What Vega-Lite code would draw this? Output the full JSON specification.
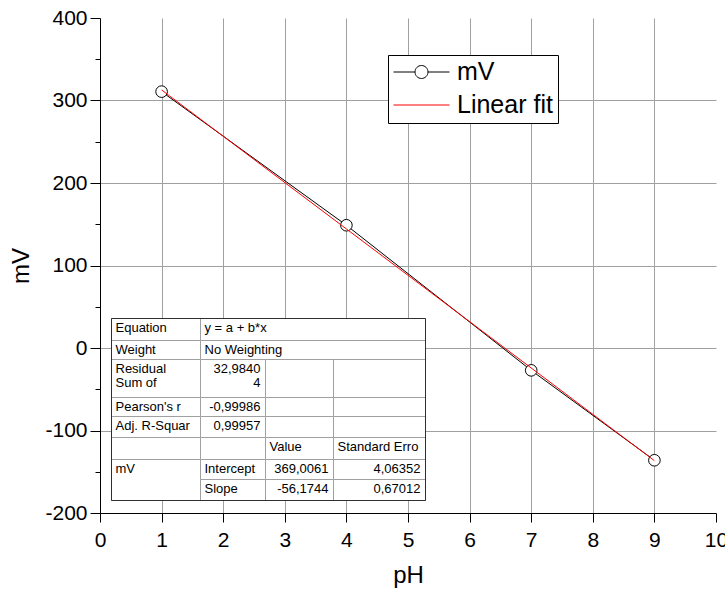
{
  "$schema": "https://vega.github.io/schema/vega-lite/v6.json",
  "width": 616,
  "height": 495,
  "autosize": {"type": "none"},
  "padding": {"left": 100, "top": 18, "right": 9, "bottom": 77},
  "background": "white",
  "config": {
    "view": {"stroke": null},
    "font": "Liberation Sans",
    "axis": {
      "labelFont": "Liberation Sans",
      "titleFont": "Liberation Sans",
      "labelColor": "black",
      "titleColor": "black",
      "titleFontWeight": "normal",
      "domainColor": "black",
      "tickColor": "black",
      "gridColor": "#a0a0a0",
      "labelFontSize": 21,
      "titleFontSize": 24,
      "labelOverlap": false,
      "labelFlush": false
    }
  },
  "datasets": {
    "measured": [
      {"pH": 1, "mV": 310.75},
      {"pH": 4, "mV": 148.79},
      {"pH": 7, "mV": -27.1},
      {"pH": 9, "mV": -136.08}
    ],
    "fit": [
      {"pH": 1, "mV": 312.8317},
      {"pH": 9, "mV": -136.5635}
    ],
    "cells": [
      {"c0": 0, "c1": 1, "r0": 0, "r1": 1},
      {"c0": 1, "c1": 4, "r0": 0, "r1": 1},
      {"c0": 0, "c1": 1, "r0": 1, "r1": 2},
      {"c0": 1, "c1": 4, "r0": 1, "r1": 2},
      {"c0": 0, "c1": 1, "r0": 2, "r1": 3},
      {"c0": 1, "c1": 2, "r0": 2, "r1": 3},
      {"c0": 2, "c1": 3, "r0": 2, "r1": 3},
      {"c0": 3, "c1": 4, "r0": 2, "r1": 3},
      {"c0": 0, "c1": 1, "r0": 3, "r1": 4},
      {"c0": 1, "c1": 2, "r0": 3, "r1": 4},
      {"c0": 2, "c1": 3, "r0": 3, "r1": 4},
      {"c0": 3, "c1": 4, "r0": 3, "r1": 4},
      {"c0": 0, "c1": 1, "r0": 4, "r1": 5},
      {"c0": 1, "c1": 2, "r0": 4, "r1": 5},
      {"c0": 2, "c1": 3, "r0": 4, "r1": 5},
      {"c0": 3, "c1": 4, "r0": 4, "r1": 5},
      {"c0": 0, "c1": 1, "r0": 5, "r1": 6},
      {"c0": 1, "c1": 2, "r0": 5, "r1": 6},
      {"c0": 2, "c1": 3, "r0": 5, "r1": 6},
      {"c0": 3, "c1": 4, "r0": 5, "r1": 6},
      {"c0": 0, "c1": 1, "r0": 6, "r1": 8},
      {"c0": 1, "c1": 2, "r0": 6, "r1": 7},
      {"c0": 2, "c1": 3, "r0": 6, "r1": 7},
      {"c0": 3, "c1": 4, "r0": 6, "r1": 7},
      {"c0": 1, "c1": 2, "r0": 7, "r1": 8},
      {"c0": 2, "c1": 3, "r0": 7, "r1": 8},
      {"c0": 3, "c1": 4, "r0": 7, "r1": 8}
    ],
    "frame": [
      {"c0": 0, "c1": 4, "r0": 0, "r1": 8}
    ],
    "cellText": [
      {"c0": 0, "c1": 1, "row": 0, "kind": "label", "text": "Equation"},
      {"c0": 1, "c1": 4, "row": 0, "kind": "label", "text": "y = a + b*x"},
      {"c0": 0, "c1": 1, "row": 1, "kind": "label", "text": "Weight"},
      {"c0": 1, "c1": 4, "row": 1, "kind": "label", "text": "No Weighting"},
      {"c0": 0, "c1": 1, "row": 2, "kind": "label", "text": ["Residual", "Sum of"]},
      {"c0": 1, "c1": 2, "row": 2, "kind": "number", "text": ["32,9840", "4"]},
      {"c0": 0, "c1": 1, "row": 3, "kind": "label", "text": "Pearson's r"},
      {"c0": 1, "c1": 2, "row": 3, "kind": "number", "text": "-0,99986"},
      {"c0": 0, "c1": 1, "row": 4, "kind": "label", "text": "Adj. R-Squar"},
      {"c0": 1, "c1": 2, "row": 4, "kind": "number", "text": "0,99957"},
      {"c0": 2, "c1": 3, "row": 5, "kind": "label", "text": "Value"},
      {"c0": 3, "c1": 4, "row": 5, "kind": "label", "text": "Standard Erro"},
      {"c0": 0, "c1": 1, "row": 6, "kind": "label", "text": "mV"},
      {"c0": 1, "c1": 2, "row": 6, "kind": "label", "text": "Intercept"},
      {"c0": 2, "c1": 3, "row": 6, "kind": "number", "text": "369,0061"},
      {"c0": 3, "c1": 4, "row": 6, "kind": "number", "text": "4,06352"},
      {"c0": 1, "c1": 2, "row": 7, "kind": "label", "text": "Slope"},
      {"c0": 2, "c1": 3, "row": 7, "kind": "number", "text": "-56,1744"},
      {"c0": 3, "c1": 4, "row": 7, "kind": "number", "text": "0,67012"}
    ]
  },
  "layer": [
    {
      "layer": [
        {
          "data": {"name": "measured"},
          "mark": {"type": "line", "strokeWidth": 1},
          "encoding": {
            "x": {
              "field": "pH", "type": "quantitative",
              "scale": {"domain": [0, 10], "nice": false, "zero": false},
              "axis": {
                "title": "pH",
                "values": [0, 0.5, 1, 1.5, 2, 2.5, 3, 3.5, 4, 4.5, 5, 5.5, 6, 6.5, 7, 7.5, 8, 8.5, 9, 9.5, 10],
                "labelExpr": "datum.value % 1 === 0 ? '' + datum.value : ''",
                "grid": true,
                "gridOpacity": {"condition": {"test": "datum.value % 1 !== 0 || datum.value === 0 || datum.value === 10", "value": 0}, "value": 1},
                "tickSize": {"condition": {"test": "datum.value % 1 !== 0", "value": 5}, "value": 9},
                "labelPadding": 7,
                "titlePadding": 13
              }
            },
            "y": {
              "field": "mV", "type": "quantitative",
              "scale": {"domain": [-200, 400], "nice": false, "zero": false},
              "axis": {
                "title": "mV",
                "values": [-200, -150, -100, -50, 0, 50, 100, 150, 200, 250, 300, 350, 400],
                "labelExpr": "datum.value % 100 === 0 ? '' + datum.value : ''",
                "grid": true,
                "gridOpacity": {"condition": {"test": "datum.value % 100 !== 0 || datum.value === 400 || datum.value === -200", "value": 0}, "value": 1},
                "tickSize": {"condition": {"test": "datum.value % 100 !== 0", "value": 5}, "value": 10},
                "labelPadding": 3,
                "titlePadding": 11
              }
            },
            "stroke": {
              "datum": "mV", "type": "nominal",
              "scale": {"domain": ["mV", "Linear fit"], "range": ["black", "#ff0000"]},
              "legend": {
                "title": null,
                "orient": "none",
                "legendX": 288,
                "legendY": 37,
                "direction": "vertical",
                "fillColor": "white",
                "strokeColor": "black",
                "padding": 5,
                "labelFont": "Liberation Sans",
                "labelFontSize": 25,
                "labelColor": "black",
                "labelOffset": 7,
                "labelLimit": 300,
                "symbolSize": 3136,
                "symbolStrokeWidth": 1,
                "symbolOffset": 0,
                "clipHeight": 24,
                "rowPadding": 8,
                "encode": {
                  "symbols": {
                    "update": {
                      "shape": {"signal": "datum.value === 'mV' ? 'M-1,0H-0.232M0.232,0H1M0.232,0A0.232,0.232,0,1,1,-0.232,0A0.232,0.232,0,1,1,0.232,0Z' : 'M-1,0H1'"},
                      "fill": {"signal": "datum.value === 'mV' ? 'white' : 'transparent'"}
                    }
                  }
                }
              }
            }
          }
        },
        {
          "data": {"name": "measured"},
          "mark": {"type": "point", "shape": "circle", "size": 135, "filled": false, "fill": "white", "fillOpacity": 1, "stroke": "black", "strokeWidth": 1, "opacity": 1},
          "encoding": {
            "x": {"field": "pH", "type": "quantitative"},
            "y": {"field": "mV", "type": "quantitative"}
          }
        },
        {
          "data": {"name": "fit"},
          "mark": {"type": "line", "strokeWidth": 1},
          "encoding": {
            "x": {"field": "pH", "type": "quantitative"},
            "y": {"field": "mV", "type": "quantitative"},
            "stroke": {"datum": "Linear fit", "type": "nominal"}
          }
        }
      ]
    },
    {
      "layer": [
        {
          "data": {"name": "cells"},
          "mark": {"type": "rect", "fill": "white", "stroke": "#a0a0a0", "strokeWidth": 1},
          "encoding": {
            "x": {
              "field": "c0", "type": "quantitative", "axis": null,
              "scale": {"domain": [0, 1, 2, 3, 4], "range": [11.5, 100.5, 165.5, 233.5, 325.5], "nice": false, "zero": false}
            },
            "x2": {"field": "c1"},
            "y": {
              "field": "r0", "type": "quantitative", "axis": null,
              "scale": {"domain": [0, 1, 2, 3, 4, 5, 6, 7, 8], "range": [300.5, 322.5, 341.5, 379.5, 398.5, 419.5, 441.5, 461.5, 482.5], "nice": false, "zero": false}
            },
            "y2": {"field": "r1"}
          }
        },
        {
          "data": {"name": "frame"},
          "mark": {"type": "rect", "fill": null, "fillOpacity": 0, "stroke": "#303030", "strokeWidth": 1},
          "encoding": {
            "x": {"field": "c0", "type": "quantitative"},
            "x2": {"field": "c1"},
            "y": {"field": "r0", "type": "quantitative"},
            "y2": {"field": "r1"}
          }
        },
        {
          "data": {"name": "cellText"},
          "transform": [{"filter": "datum.kind === 'label'"}],
          "mark": {"type": "text", "align": "left", "baseline": "top", "dx": 4, "dy": 3, "font": "Liberation Sans", "fontSize": 13, "lineHeight": 14, "color": "black"},
          "encoding": {
            "x": {"field": "c0", "type": "quantitative"},
            "y": {"field": "row", "type": "quantitative"},
            "text": {"field": "text", "type": "nominal"}
          }
        },
        {
          "data": {"name": "cellText"},
          "transform": [{"filter": "datum.kind === 'number'"}],
          "mark": {"type": "text", "align": "right", "baseline": "top", "dx": -5, "dy": 3, "font": "Liberation Sans", "fontSize": 13, "lineHeight": 14, "color": "black"},
          "encoding": {
            "x": {"field": "c1", "type": "quantitative"},
            "y": {"field": "row", "type": "quantitative"},
            "text": {"field": "text", "type": "nominal"}
          }
        }
      ]
    }
  ],
  "resolve": {"scale": {"x": "independent", "y": "independent"}}
}
